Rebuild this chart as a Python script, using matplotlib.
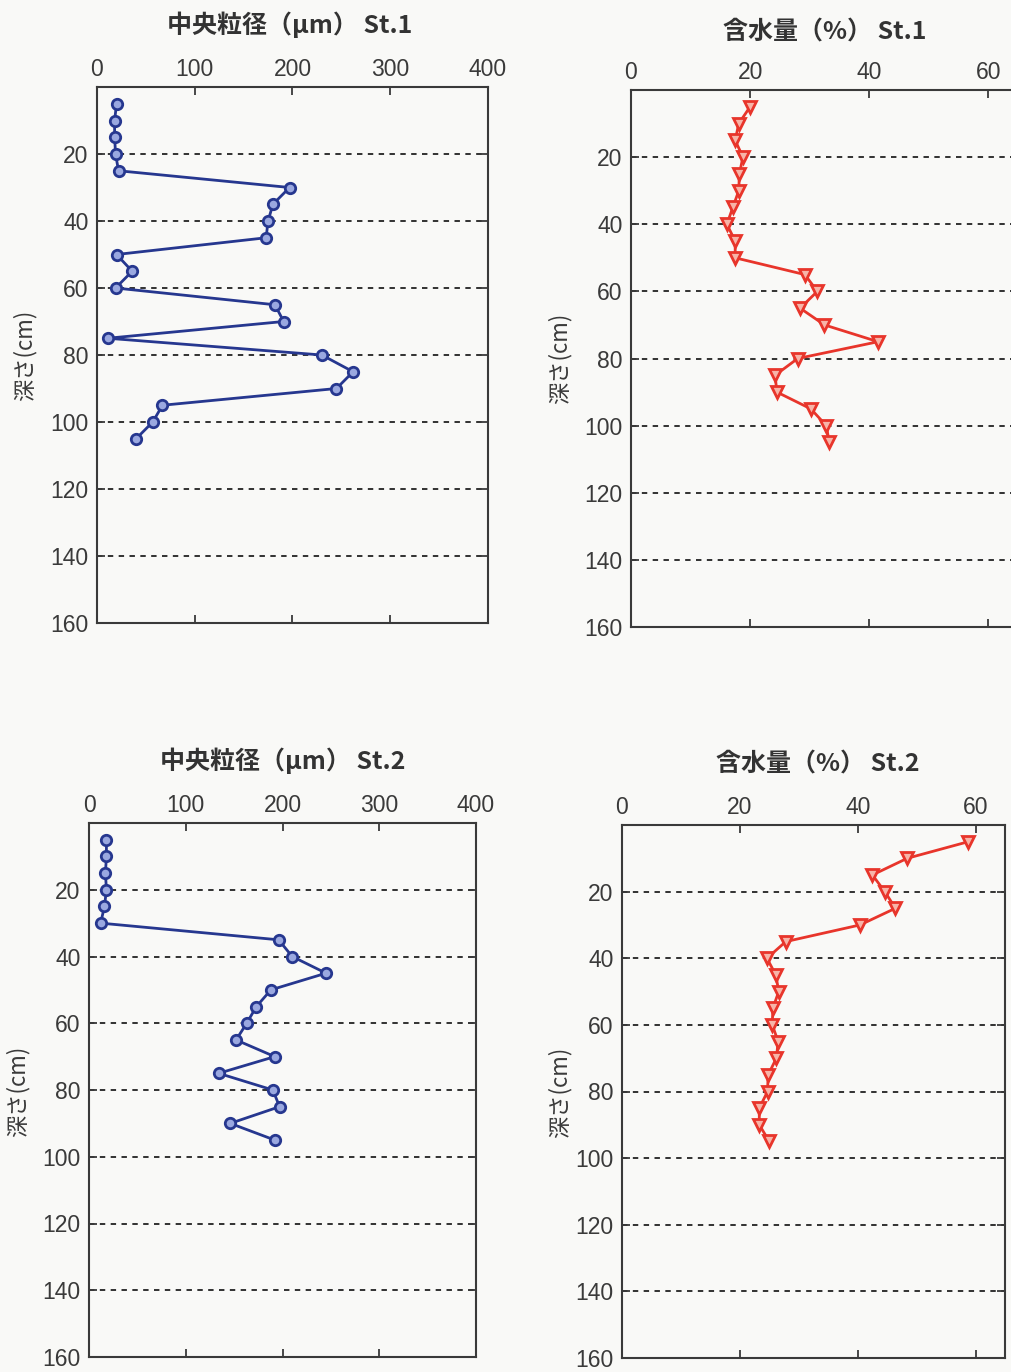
"""Depth profiles of median grain size and water content, St.1 / St.2."""
import matplotlib
matplotlib.use("Agg")
import matplotlib.pyplot as plt

plt.rcParams["font.family"] = ["Liberation Sans", "Noto Sans CJK JP", "DejaVu Sans"]

W, H = 1012, 1372

# depth (cm)
depth_st1 = [5, 10, 15, 20, 25, 30, 35, 40, 45, 50, 55, 60, 65, 70, 75,
             80, 85, 90, 95, 100, 105]
depth_st2 = [5, 10, 15, 20, 25, 30, 35, 40, 45, 50, 55, 60, 65, 70, 75,
             80, 85, 90, 95]

# median grain size (um)
grain_st1 = [20, 18, 18, 19, 22, 197, 180, 175, 173, 20, 36, 19, 182, 191,
             11, 230, 262, 245, 67, 57, 40]
grain_st2 = [18, 18, 17, 18, 16, 12, 196, 210, 245, 188, 173, 163, 152, 192,
             134, 190, 197, 146, 192]

# water content (%)
water_st1 = [20.0, 18.1, 17.5, 18.8, 18.2, 18.1, 17.1, 16.1, 17.5, 17.5, 29.2,
             31.3, 28.4, 32.5, 41.5, 28.0, 24.2, 24.5, 30.2, 32.8, 33.3]
water_st2 = [58.8, 48.4, 42.5, 44.6, 46.4, 40.4, 27.8, 24.6, 26.1, 26.6, 25.6,
             25.5, 26.5, 26.2, 24.8, 24.7, 23.3, 23.3, 25.0]

grain_ticks = [0, 100, 200, 300, 400]
water_ticks = [0, 20, 40, 60]
depth_ticks = [20, 40, 60, 80, 100, 120, 140, 160]

BLUE = "#26378f"
RED = "#e8352b"
BG = "#f9f9f7"
INK = "#3a3a3a"


def px_axes(fig, x0, y0, x1, y1):
    return fig.add_axes([x0 / W, 1 - y1 / H, (x1 - x0) / W, (y1 - y0) / H])


def style(ax, xlim, xticks):
    ax.set_facecolor(BG)
    ax.set_xlim(*xlim)
    ax.set_ylim(160, 0)
    ax.set_xticks(xticks)
    ax.set_yticks(depth_ticks)
    ax.xaxis.tick_top()
    ax.tick_params(axis="x", which="both", top=True, bottom=True,
                   labeltop=True, labelbottom=False, direction="in",
                   length=6, width=1.3, color=INK, labelsize=16.5,
                   labelcolor=INK, pad=4)
    ax.tick_params(axis="y", left=True, right=True, direction="in",
                   length=6, width=1.3, color=INK, labelsize=16.5,
                   labelcolor=INK, pad=6)
    for s in ax.spines.values():
        s.set_color(INK)
        s.set_linewidth(1.5)
    for d in depth_ticks[:-1]:
        ax.axhline(d, color="#222222", lw=1.3, ls=(0, (3, 3)), zorder=1)


fig = plt.figure(figsize=(W / 100, H / 100), dpi=100, facecolor=BG)

panels = [
    # (box, xlim, xticks, x, y, color, marker, title, title pos, ylabel pos)
    ((97, 87, 488, 623), (0, 400), grain_ticks, grain_st1, depth_st1,
     BLUE, "o", "中央粒径（μm） St.1", (290, 25), (25, 355)),
    ((631, 90, 1018, 627), (0, 65), water_ticks, water_st1, depth_st1,
     RED, "v", "含水量（%） St.1", (825, 32), (560, 358)),
    ((89, 823, 476, 1357), (0, 400), grain_ticks, grain_st2, depth_st2,
     BLUE, "o", "中央粒径（μm） St.2", (283, 761), (18, 1091)),
    ((622, 825, 1005, 1358), (0, 65), water_ticks, water_st2, depth_st2,
     RED, "v", "含水量（%） St.2", (818, 765), (560, 1092)),
]

for box, xlim, xticks, xs, ys, col, mk, title, tpos, lpos in panels:
    ax = px_axes(fig, *box)
    style(ax, xlim, xticks)
    ax.plot(xs, ys, color=col, lw=2.0, marker=mk, ms=7.5 if mk == "o" else 9,
            mfc="#9aa8e0" if mk == "o" else "#f7b4a8", mec=col, mew=2.0,
            zorder=3, clip_on=False)
    fig.text(tpos[0] / W, 1 - tpos[1] / H, title, ha="center", va="center",
             fontsize=18, fontweight="bold", color="#333333",
             family=["Noto Sans CJK JP", "DejaVu Sans"])
    fig.text(lpos[0] / W, 1 - lpos[1] / H, "深さ(cm)", ha="center",
             va="center", rotation=90, fontsize=16, color=INK,
             family=["Noto Sans CJK JP", "DejaVu Sans"])

fig.savefig("out.png", dpi=100, facecolor=BG)
